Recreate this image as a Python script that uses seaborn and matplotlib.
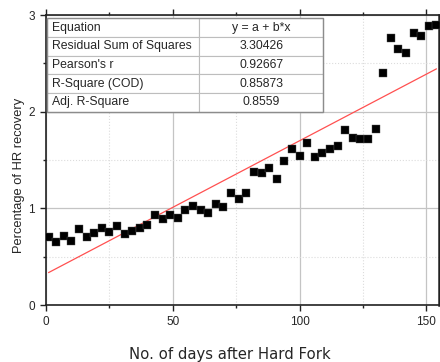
import numpy as np
import pandas as pd
import matplotlib
matplotlib.use("Agg")
import matplotlib.pyplot as plt
from matplotlib.ticker import MultipleLocator
from matplotlib.patches import Rectangle
import seaborn as sns

# ---- data ----
days = [1, 4, 7, 10, 13, 16, 19, 22, 25, 28,
        31, 34, 37, 40, 43, 46, 49, 52, 55, 58,
        61, 64, 67, 70, 73, 76, 79, 82, 85, 88,
        91, 94, 97, 100, 103, 106, 109, 112, 115, 118,
        121, 124, 127, 130, 133, 136, 139, 142, 145, 148,
        151, 154]
recovery = [0.706, 0.650, 0.710, 0.665, 0.786, 0.706, 0.750, 0.800, 0.755, 0.817,
            0.730, 0.768, 0.796, 0.827, 0.934, 0.889, 0.927, 0.896, 0.982, 1.024,
            0.986, 0.951, 1.048, 1.013, 1.155, 1.093, 1.155, 1.375, 1.368, 1.413,
            1.300, 1.486, 1.617, 1.538, 1.675, 1.527, 1.569, 1.617, 1.648, 1.806,
            1.730, 1.720, 1.713, 1.817, 2.402, 2.764, 2.647, 2.603, 2.810, 2.779,
            2.885, 2.900]
table_labels = ["Equation", "Residual Sum of Squares", "Pearson's r",
                "R-Square (COD)", "Adj. R-Square"]
table_values = ["y = a + b*x", "3.30426", "0.92667", "0.85873", "0.8559"]
x_label = "No. of days after Hard Fork"
y_label = "Percentage of HR recovery"

df = pd.DataFrame({"days": days, "recovery": recovery})

sns.set_theme(style="ticks")
plt.rcParams["font.family"] = ["DejaVu Sans"]

fig = plt.figure(figsize=(4.4, 3.62), dpi=100)
ax = fig.add_axes([46 / 440, 1 - 305 / 362, 393 / 440, 290 / 362])

sns.scatterplot(data=df, x="days", y="recovery", marker="s", s=30,
                color="black", edgecolor="#555555", linewidth=0.3,
                ax=ax, zorder=3)
sns.regplot(data=df, x="days", y="recovery", scatter=False, ci=None,
            line_kws={"color": "#ff5050", "lw": 0.9, "zorder": 2}, ax=ax)

ax.set_xlim(0, 155)
ax.set_ylim(0, 3)
ax.xaxis.set_major_locator(MultipleLocator(50))
ax.xaxis.set_minor_locator(MultipleLocator(25))
ax.yaxis.set_major_locator(MultipleLocator(1))
ax.yaxis.set_minor_locator(MultipleLocator(0.5))

ax.grid(which="major", color="#c4c4c4", lw=0.9, zorder=0)
ax.grid(which="minor", color="#dcdcdc", lw=0.8, ls=":", zorder=0)
ax.set_axisbelow(True)

for side in ["left", "right", "top", "bottom"]:
    ax.spines[side].set_visible(True)
    ax.spines[side].set_color("#222222")
    ax.spines[side].set_linewidth(1.2)
ax.spines["right"].set_linewidth(1.8)

ax.tick_params(which="major", direction="out", length=4.5, width=1.0,
               color="#222222", labelsize=8, pad=3.5,
               top=True, right=True, labeltop=False, labelright=False)
ax.tick_params(which="minor", direction="out", length=2.2, width=1.0,
               color="#222222", top=True, right=True)
for lbl in ax.get_xticklabels() + ax.get_yticklabels():
    lbl.set_family(["Liberation Sans"])
    lbl.set_fontsize(8.5)

ax.set_xlabel(x_label, fontsize=10.7)
ax.xaxis.set_label_coords(0.469, -0.145)
ax.set_ylabel(y_label, fontsize=9.3, family=["Liberation Sans"])
ax.yaxis.set_label_coords(-0.053, 0.448)

cell_text = [[a, b] for a, b in zip(table_labels, table_values)]
tbl = ax.table(cellText=cell_text, cellLoc="left",
               colWidths=[0.387, 0.316],
               bbox=[0.003, 0.6666, 0.703, 0.322], zorder=5)
tbl.auto_set_font_size(False)
for (r, c), cell in tbl.get_celld().items():
    cell.set_edgecolor("#bdbdbd")
    cell.set_linewidth(0.8)
    cell.set_facecolor("white")
    txt = cell.get_text()
    txt.set_fontsize(8.8)
    txt.set_family(["Liberation Sans"])
    if c == 1:
        txt.set_ha("center")
        cell._loc = "center"
    else:
        cell.PAD = 0.033
ax.add_patch(Rectangle((0.003, 0.6666), 0.703, 0.322, transform=ax.transAxes,
                       fill=False, edgecolor="#8c8c8c", lw=1.0, zorder=6))

fig.savefig("out.png", dpi=100)
